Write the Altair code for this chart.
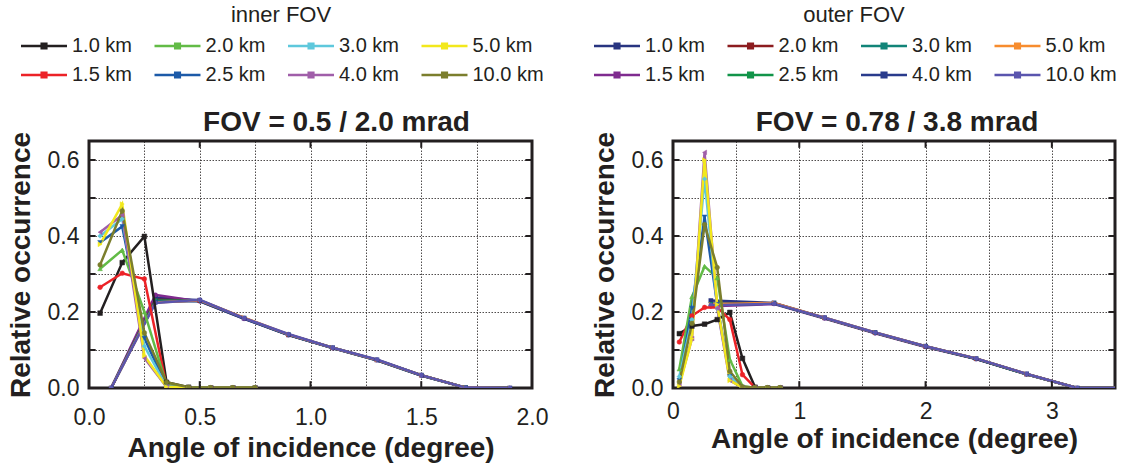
import altair as alt
import pandas as pd

FONT = "Liberation Sans"
INK = "#231f20"

KM = ["1.0 km", "1.5 km", "2.0 km", "2.5 km", "3.0 km", "4.0 km", "5.0 km", "10.0 km"]
# outer-FOV series names carry a trailing space so that the two legends stay separate
OUTER_NAME = {k: k + " " for k in KM}

INNER_COLORS = {"1.0 km": "#231f20", "1.5 km": "#ec2227", "2.0 km": "#62bb46", "2.5 km": "#1c5aa8",
                "3.0 km": "#5ec8dc", "4.0 km": "#a05ea9", "5.0 km": "#f2e81c", "10.0 km": "#7b7e2d"}
OUTER_COLORS = {"1.0 km": "#283480", "1.5 km": "#7f2b8f", "2.0 km": "#8c1c1f", "2.5 km": "#119449",
                "3.0 km": "#118478", "4.0 km": "#293b8c", "5.0 km": "#f78c2e", "10.0 km": "#5a55ae"}
SHAPES = {"1.0 km": "square", "1.5 km": "circle", "2.0 km": "triangle-up", "2.5 km": "triangle-down",
          "3.0 km": "diamond", "4.0 km": "triangle-left", "5.0 km": "triangle-right", "10.0 km": "circle"}

# ---- left panel: FOV = 0.5 / 2.0 mrad ----
L_INNER_X = [0.05, 0.15, 0.25, 0.35, 0.45, 0.55, 0.65, 0.75]
L_INNER = {
    "1.0 km": [0.197, 0.330, 0.399, 0.015, 0.002, 0.0, 0.0, 0.0],
    "1.5 km": [0.265, 0.302, 0.287, 0.005, 0.0, 0.0, 0.0, 0.0],
    "2.0 km": [0.314, 0.363, 0.200, 0.008, 0.001, 0.0, 0.0, 0.0],
    "2.5 km": [0.383, 0.425, 0.131, 0.004, 0.0, 0.0, 0.0, 0.0],
    "3.0 km": [0.400, 0.445, 0.110, 0.004, 0.0, 0.0, 0.0, 0.0],
    "4.0 km": [0.410, 0.455, 0.079, 0.003, 0.0, 0.0, 0.0, 0.0],
    "5.0 km": [0.378, 0.484, 0.085, 0.003, 0.0, 0.0, 0.0, 0.0],
    "10.0 km": [0.324, 0.466, 0.145, 0.015, 0.002, 0.001, 0.001, 0.001],
}
L_OUTER_X = [0.1, 0.3, 0.5, 0.7, 0.9, 1.1, 1.3, 1.5, 1.7, 1.9]
L_OUTER = {
    "1.0 km": [0.0, 0.238, 0.231, 0.184, 0.140, 0.106, 0.074, 0.034, 0.001, 0.0],
    "1.5 km": [0.0, 0.245, 0.228, 0.182, 0.139, 0.105, 0.073, 0.033, 0.001, 0.0],
    "2.0 km": [0.0, 0.232, 0.230, 0.184, 0.141, 0.106, 0.074, 0.034, 0.001, 0.0],
    "2.5 km": [0.0, 0.230, 0.229, 0.183, 0.140, 0.105, 0.073, 0.033, 0.001, 0.0],
    "3.0 km": [0.0, 0.228, 0.230, 0.184, 0.140, 0.106, 0.074, 0.034, 0.001, 0.0],
    "4.0 km": [0.0, 0.226, 0.229, 0.183, 0.140, 0.105, 0.073, 0.033, 0.001, 0.0],
    "5.0 km": [0.0, 0.225, 0.231, 0.185, 0.141, 0.106, 0.074, 0.034, 0.001, 0.0],
    "10.0 km": [0.0, 0.224, 0.232, 0.184, 0.142, 0.106, 0.075, 0.034, 0.001, 0.0],
}

# ---- right panel: FOV = 0.78 / 3.8 mrad ----
R_INNER_X = [0.05, 0.15, 0.25, 0.35, 0.45, 0.55, 0.65, 0.75, 0.85]
R_INNER = {
    "1.0 km": [0.143, 0.163, 0.168, 0.180, 0.199, 0.078, 0.002, 0.0, 0.0],
    "1.5 km": [0.121, 0.190, 0.212, 0.212, 0.180, 0.035, 0.001, 0.0, 0.0],
    "2.0 km": [0.050, 0.240, 0.320, 0.290, 0.075, 0.005, 0.0, 0.0, 0.0],
    "2.5 km": [0.020, 0.210, 0.450, 0.220, 0.030, 0.002, 0.0, 0.0, 0.0],
    "3.0 km": [0.030, 0.180, 0.550, 0.210, 0.030, 0.001, 0.0, 0.0, 0.0],
    "4.0 km": [0.010, 0.130, 0.620, 0.210, 0.020, 0.001, 0.0, 0.0, 0.0],
    "5.0 km": [0.005, 0.130, 0.600, 0.220, 0.020, 0.001, 0.0, 0.0, 0.0],
    "10.0 km": [0.016, 0.170, 0.430, 0.317, 0.044, 0.003, 0.001, 0.001, 0.001],
}
R_OUTER_X = [0.3, 0.8, 1.2, 1.6, 2.0, 2.4, 2.8, 3.2, 3.6]
R_OUTER = {
    "1.0 km": [0.230, 0.224, 0.185, 0.146, 0.110, 0.077, 0.037, 0.0, 0.0],
    "1.5 km": [0.215, 0.221, 0.183, 0.144, 0.108, 0.076, 0.036, 0.0, 0.0],
    "2.0 km": [0.222, 0.223, 0.184, 0.145, 0.109, 0.077, 0.036, 0.0, 0.0],
    "2.5 km": [0.220, 0.222, 0.184, 0.145, 0.109, 0.077, 0.036, 0.0, 0.0],
    "3.0 km": [0.221, 0.222, 0.184, 0.145, 0.109, 0.077, 0.036, 0.0, 0.0],
    "4.0 km": [0.219, 0.223, 0.184, 0.145, 0.109, 0.077, 0.037, 0.0, 0.0],
    "5.0 km": [0.220, 0.224, 0.185, 0.146, 0.110, 0.078, 0.037, 0.0, 0.0],
    "10.0 km": [0.218, 0.222, 0.185, 0.146, 0.110, 0.078, 0.037, 0.0, 0.0],
}

Y_GRID = [0.0, 0.1, 0.2, 0.3, 0.4, 0.5, 0.6]
Y_TICKS = [0.1, 0.2, 0.3, 0.4, 0.5, 0.6]
L_X_GRID = [0.0, 0.25, 0.5, 0.75, 1.0, 1.25, 1.5, 1.75, 2.0]
L_X_TICKS = [0.5, 1.0, 1.5]
R_X_GRID = [0.0, 0.5, 1.0, 1.5, 2.0, 2.5, 3.0, 3.5]
R_X_TICKS = [1.0, 2.0, 3.0]
Y_MAX = 0.65


def long(xs, series, key, names):
    rows = []
    for name in KM:
        for x, y in zip(xs, series[name]):
            rows.append({"x": x, "y": y, key: names[name]})
    return pd.DataFrame(rows)


IDENT = {k: k for k in KM}
LEG_PATH = "M-1,0L5.57,0M1.96,-0.33L2.62,-0.33L2.62,0.33L1.96,0.33Z"


def make_legend(title, lx, ly):
    return alt.Legend(title=title, orient="none", legendX=lx, legendY=ly, columns=4,
                      symbolType=LEG_PATH, symbolSize=196, symbolStrokeWidth=2.5,
                      symbolOpacity=1, labelFontSize=20, labelColor=INK, titleFontSize=22,
                      titleFontWeight="normal", titleColor=INK, titleAnchor="middle",
                      titlePadding=9, columnPadding=16.5, rowPadding=9, labelOffset=34, padding=0)


inner_scale = alt.Scale(domain=KM, range=[INNER_COLORS[k] for k in KM])
outer_scale = alt.Scale(domain=[OUTER_NAME[k] for k in KM], range=[OUTER_COLORS[k] for k in KM])
inner_shape = alt.Scale(domain=KM, range=[SHAPES[k] for k in KM])
outer_shape = alt.Scale(domain=[OUTER_NAME[k] for k in KM], range=[SHAPES[k] for k in KM])

LEG_Y = -136
inner_legend = make_legend("inner FOV", -71, LEG_Y)
outer_legend = make_legend("outer FOV", 502, LEG_Y)


def panel(inner_df, outer_df, xdom, xgrid, xticks, label_expr, title, title_dx, title_dy,
          x_label_pad, x_title_pad, y_title_pad, tick_dx, width):
    height = 247
    x_enc = alt.X("x:Q", scale=alt.Scale(domain=xdom, nice=False, zero=False),
                  axis=alt.Axis(values=xgrid, labelExpr=label_expr, title="Angle of incidence (degree)",
                                labelPadding=x_label_pad, titlePadding=x_title_pad))
    y_enc = alt.Y("y:Q", scale=alt.Scale(domain=[0, Y_MAX], nice=False),
                  axis=alt.Axis(values=Y_GRID,
                                labelExpr="abs(datum.value*5 - round(datum.value*5)) < 0.001 ? format(datum.value, '.1f') : ''",
                                title="Relative occurrence", labelPadding=10, titlePadding=y_title_pad))

    outer_line = alt.Chart(outer_df).mark_line(strokeWidth=2.5, clip=True, opacity=1).encode(
        x=x_enc, y=y_enc,
        color=alt.Color("outer_km:N", scale=outer_scale, legend=outer_legend),
        detail="outer_km:N")
    outer_pt = alt.Chart(outer_df).mark_point(filled=True, size=22, clip=True, opacity=1).encode(
        x=x_enc, y=y_enc,
        color=alt.Color("outer_km:N", scale=outer_scale, legend=outer_legend),
        shape=alt.Shape("outer_km:N", scale=outer_shape, legend=None))
    inner_line = alt.Chart(inner_df).mark_line(strokeWidth=2.5, clip=True, opacity=1).encode(
        x=x_enc, y=y_enc,
        stroke=alt.Stroke("inner_km:N", scale=inner_scale, legend=inner_legend),
        detail="inner_km:N")
    inner_pt = alt.Chart(inner_df).mark_point(filled=True, size=22, clip=True, opacity=1, strokeWidth=0.5).encode(
        x=x_enc, y=y_enc,
        stroke=alt.Stroke("inner_km:N", scale=inner_scale, legend=inner_legend),
        fill=alt.Fill("inner_km:N", scale=inner_scale, legend=None),
        shape=alt.Shape("inner_km:N", scale=inner_shape, legend=None))

    tl = 0.018
    bx = pd.DataFrame({"x": xticks, "y": [0.0] * len(xticks), "y2": [tl] * len(xticks)})
    tx = pd.DataFrame({"x": xticks, "y": [Y_MAX - tl] * len(xticks), "y2": [Y_MAX] * len(xticks)})
    ly = pd.DataFrame({"x": [xdom[0]] * len(Y_TICKS), "x2": [xdom[0] + tick_dx] * len(Y_TICKS), "y": Y_TICKS})
    ry = pd.DataFrame({"x": [xdom[1] - tick_dx] * len(Y_TICKS), "x2": [xdom[1]] * len(Y_TICKS), "y": Y_TICKS})
    tick_b = alt.Chart(bx).mark_rule(color=INK, strokeWidth=2).encode(x=x_enc, y=y_enc, y2="y2:Q")
    tick_t = alt.Chart(tx).mark_rule(color=INK, strokeWidth=2).encode(x=x_enc, y=y_enc, y2="y2:Q")
    tick_l = alt.Chart(ly).mark_rule(color=INK, strokeWidth=2).encode(x=x_enc, x2="x2:Q", y=y_enc)
    tick_r = alt.Chart(ry).mark_rule(color=INK, strokeWidth=2).encode(x=x_enc, x2="x2:Q", y=y_enc)

    return alt.layer(outer_line, outer_pt, inner_line, inner_pt, tick_b, tick_t, tick_l, tick_r).properties(
        width=width, height=height,
        title=alt.TitleParams(text=title, fontSize=28, fontWeight="bold", anchor="middle",
                              dx=title_dx, dy=title_dy, offset=4, color=INK))


left = panel(long(L_INNER_X, L_INNER, "inner_km", IDENT), long(L_OUTER_X, L_OUTER, "outer_km", OUTER_NAME),
             [0.0, 2.0], L_X_GRID, L_X_TICKS,
             "abs(datum.value*2 - round(datum.value*2)) < 0.001 ? format(datum.value, '.1f') : ''",
             "FOV = 0.5 / 2.0 mrad", 26, 10, 18, 5, 12, 0.03, 443)
right = panel(long(R_INNER_X, R_INNER, "inner_km", IDENT), long(R_OUTER_X, R_OUTER, "outer_km", OUTER_NAME),
              [0.0, 3.5], R_X_GRID, R_X_TICKS,
              "abs(datum.value - round(datum.value)) < 0.001 ? format(datum.value, 'd') : ''",
              "FOV = 0.78 / 3.8 mrad", 3, 10, 12, 2, 12, 0.052, 442)

chart = alt.hconcat(left, right, spacing=39).properties(
    padding={"left": 5, "top": 5, "right": 0, "bottom": 0}
).configure(font=FONT).configure_view(
    stroke=INK, strokeWidth=3
).configure_axis(
    labelFontSize=23, titleFontSize=28, titleFontWeight="bold", labelColor=INK, titleColor=INK,
    grid=True, gridColor=INK, gridDash=[1.5, 1.5], gridWidth=0.8, gridOpacity=1,
    domain=False, ticks=False, tickSize=0, labelFlush=False, labelOverlap=False
)

chart.save("out.html", embed_options={"renderer": "svg", "actions": False})
